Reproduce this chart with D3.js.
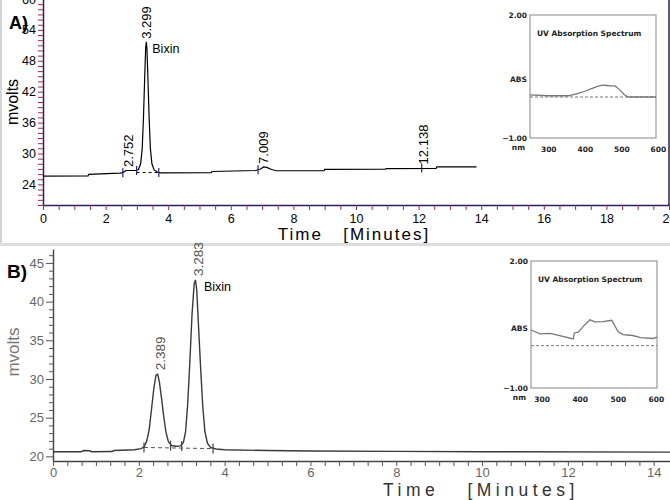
<!DOCTYPE html>
<html>
<head>
<meta charset="utf-8">
<script src="https://cdn.jsdelivr.net/npm/d3@7"></script>
<style>
  body { margin: 0; background: #fff; }
  svg { display: block; }
  text { font-family: "Liberation Sans", Arial, sans-serif; }
</style>
</head>
<body>
<div id="chart"></div>
<script>
// ---- data ----
// panel A chromatogram
var timeA = [0, 1.44, 1.46, 2.45, 2.55, 2.65, 2.95, 3.05, 3.12, 3.17, 3.21, 3.25, 3.28, 3.3, 3.32, 3.35, 3.39, 3.43, 3.48, 3.55,
             3.65, 3.75, 5.38, 5.4, 6.8, 6.95, 7.05, 7.15, 7.3, 7.46, 8.98, 9.0, 10.94, 10.96, 12.56, 12.58, 13.85];
var mvA = [25.6, 25.65, 25.95, 26.2, 26.3, 26.7, 26.7, 26.9, 28, 31, 37, 45, 50.5, 51.7, 50.5, 45, 37, 31, 28, 26.8,
           26.4, 26.25, 26.3, 26.5, 26.7, 27.0, 27.4, 27.3, 26.9, 26.65, 26.65, 26.9, 26.95, 27.05, 27.1, 27.4, 27.4];
var peakLabelsA = ["2.752", "3.299", "7.009", "12.138"];
var peakTimesA = [2.72, 3.3, 7.03, 12.14];
var peakTopsA = [26.8, 51.7, 27.4, 27.3];
var markTimesA = [2.55, 2.99, 3.7, 6.87, 12.1];
var markValsA = [26.25, 26.7, 26.3, 26.85, 27.2];
var yTicksA = [24, 30, 36, 42, 48, 54, 60];
var xTicksA = [0, 2, 4, 6, 8, 10, 12, 14, 16, 18, 20];

// panel A inset spectrum
var nmA = [250, 300, 355, 380, 400, 420, 435, 448, 460, 470, 483, 495, 508, 518, 550, 595];
var absA = [0.05, 0.03, 0.03, 0.08, 0.14, 0.21, 0.26, 0.29, 0.28, 0.27, 0.27, 0.18, 0.06, 0.0, 0.0, 0.0];

// panel B chromatogram
var timeB = [0, 0.65, 0.72, 0.85, 0.9, 1.38, 1.42, 1.9, 2.05, 2.12, 2.18, 2.24, 2.29, 2.35, 2.4, 2.44, 2.48, 2.53, 2.57, 2.63,
             2.69, 2.76, 2.87, 2.97, 3.04, 3.09, 3.14, 3.19, 3.24, 3.29, 3.32, 3.35, 3.39, 3.44, 3.49, 3.54, 3.6, 3.67, 3.8, 4.0,
             5, 6, 8, 10, 14.38];
var mvB = [20.6, 20.6, 20.75, 20.72, 20.6, 20.62, 20.75, 20.85, 21.0, 21.2, 21.9, 23.4, 25.8, 28.8, 30.5, 30.6, 29.6, 27.5, 25.6, 23.2,
           21.9, 21.4, 21.3, 21.35, 21.8, 23.2, 26.8, 32.3, 38.3, 42.3, 42.8, 41.5, 37, 31.5, 26.5, 23.2, 21.7, 21.15, 20.95, 20.85,
           20.75, 20.7, 20.65, 20.6, 20.55];
var peakLabelsB = ["2.389", "3.283"];
var peakTimesB = [2.45, 3.33];
var peakTopsB = [30.6, 42.8];
var markTimesB = [2.12, 2.74, 3.0, 3.73];
var markValsB = [21.15, 21.4, 21.35, 21.0];
var yTicksB = [20, 25, 30, 35, 40, 45];
var xTicksB = [0, 2, 4, 6, 8, 10, 12, 14];

// panel B inset spectrum
var nmB = [272, 296, 322, 350, 383, 386, 396, 412, 427, 440, 461, 484, 501, 514, 539, 560, 594, 603];
var absB = [0.37, 0.28, 0.29, 0.23, 0.16, 0.3, 0.32, 0.48, 0.61, 0.56, 0.57, 0.6, 0.33, 0.26, 0.24, 0.19, 0.17, 0.2];

var nmTicks = [300, 400, 500, 600];

var width = 670, height = 500;

var svg = d3.select("#chart").append("svg")
  .attr("width", width)
  .attr("height", height);

svg.append("rect").attr("width", width).attr("height", height).attr("fill", "#fff");

// ================= panel A =================
var xA = d3.scaleLinear().domain([0, 20]).range([43, 669]);
var yA = d3.scaleLinear().domain([20, 60]).range([205, -1]);

// light grey frame around panel A
svg.append("line").attr("x1", 1).attr("x2", 1).attr("y1", 0).attr("y2", 244)
  .attr("stroke", "#d4d4d4").attr("stroke-width", 2);
svg.append("line").attr("x1", 0).attr("x2", width).attr("y1", 244.5).attr("y2", 244.5)
  .attr("stroke", "#dcdcdc").attr("stroke-width", 3);
svg.append("line").attr("x1", 669).attr("x2", 669).attr("y1", 0).attr("y2", 205)
  .attr("stroke", "#2a1f5c").attr("stroke-width", 1.5);

var gA = svg.append("g");

var axisYA = gA.append("g")
  .attr("transform", "translate(" + xA(0) + ",0)")
  .call(d3.axisLeft(yA)
    .tickValues(d3.range(20, 61, 1))
    .tickSize(5)
    .tickSizeOuter(0)
    .tickPadding(2)
    .tickFormat(function(d) { return yTicksA.indexOf(d) >= 0 ? d : ""; }));

var axisXA = gA.append("g")
  .attr("transform", "translate(0," + yA(20) + ")")
  .call(d3.axisBottom(xA)
    .tickValues(d3.range(0, 20.01, 0.5))
    .tickSize(5)
    .tickSizeOuter(0)
    .tickPadding(4)
    .tickFormat(function(d) { return xTicksA.indexOf(d) >= 0 ? d : ""; }));

[axisYA, axisXA].forEach(function(ax) {
  ax.select(".domain").attr("stroke", "#2a1f5c").attr("stroke-width", 1.5);
  ax.selectAll(".tick line").attr("stroke", "#a3285a");
  ax.selectAll(".tick text").attr("fill", "#000").style("font-size", "12.5px");
});

// dashed baseline under Bixin peak
gA.append("line")
  .attr("x1", xA(2.99)).attr("x2", xA(3.7))
  .attr("y1", yA(26.3)).attr("y2", yA(26.3))
  .attr("stroke", "#000").attr("stroke-dasharray", "3,3");

var lineA = d3.line()
  .x(function(d, i) { return xA(timeA[i]); })
  .y(function(d) { return yA(d); });

gA.append("path")
  .datum(mvA)
  .attr("fill", "none")
  .attr("stroke", "#000")
  .attr("stroke-width", 1.2)
  .attr("d", lineA);

// peak start/end markers
gA.selectAll(".markA")
  .data(markTimesA)
  .enter().append("line")
  .attr("x1", function(d) { return xA(d); })
  .attr("x2", function(d) { return xA(d); })
  .attr("y1", function(d, i) { return yA(markValsA[i]) - 4.5; })
  .attr("y2", function(d, i) { return yA(markValsA[i]) + 4.5; })
  .attr("stroke", "#23238c")
  .attr("stroke-width", 1.2);

// retention time labels
gA.selectAll(".rtA")
  .data(peakLabelsA)
  .enter().append("text")
  .attr("transform", function(d, i) {
    return "translate(" + xA(peakTimesA[i]) + "," + (yA(peakTopsA[i]) - 3) + ")rotate(-90)";
  })
  .attr("dy", "0.35em")
  .style("font-size", "13px")
  .attr("fill", "#000")
  .text(function(d) { return d; });

gA.append("text")
  .attr("x", xA(3.3) + 6).attr("y", 53)
  .style("font-size", "12.5px")
  .text("Bixin");

gA.append("text")
  .attr("transform", "translate(18,102)rotate(-90)")
  .attr("text-anchor", "middle")
  .style("font-size", "16px")
  .text("mvolts");

gA.append("text")
  .attr("x", 354).attr("y", 240)
  .attr("text-anchor", "middle")
  .style("font-size", "17px")
  .style("letter-spacing", "2px")
  .style("white-space", "pre")
  .text("Time   [Minutes]");

gA.append("text")
  .attr("x", 9).attr("y", 29)
  .style("font-size", "18px")
  .style("font-weight", "bold")
  .text("A)");

// ================= panel B =================
var xB = d3.scaleLinear().domain([0, 14.38]).range([53, 670]);
var yB = d3.scaleLinear().domain([19.4, 46.8]).range([461, 249]);

var gB = svg.append("g");

var axisYB = gB.append("g")
  .attr("transform", "translate(" + xB(0) + ",0)")
  .call(d3.axisLeft(yB)
    .tickValues(d3.range(20, 47, 1))
    .tickSize(4)
    .tickSizeOuter(0)
    .tickPadding(5)
    .tickFormat(function(d) { return yTicksB.indexOf(d) >= 0 ? d : ""; }));
axisYB.selectAll(".tick line")
  .attr("x2", function(d) { return yTicksB.indexOf(d) >= 0 ? -7 : -4; });

var axisXB = gB.append("g")
  .attr("transform", "translate(0," + yB(19.4) + ")")
  .call(d3.axisBottom(xB)
    .tickValues(d3.range(0, 43, 1).map(function(d) { return d / 3; }))
    .tickSize(5)
    .tickSizeOuter(0)
    .tickPadding(2)
    .tickFormat(function(d) {
      var r = Math.round(d);
      return (Math.abs(d - r) < 1e-6 && xTicksB.indexOf(r) >= 0) ? r : "";
    }));

[axisYB, axisXB].forEach(function(ax) {
  ax.select(".domain").attr("stroke", "#444").attr("stroke-width", 1.4);
  ax.selectAll(".tick line").attr("stroke", "#555");
  ax.selectAll(".tick text").attr("fill", "#666").style("font-size", "13px");
});

gB.append("line")
  .attr("x1", xB(2.12)).attr("x2", xB(3.73))
  .attr("y1", yB(21.15)).attr("y2", yB(21.0))
  .attr("stroke", "#555").attr("stroke-dasharray", "4,3");

var lineB = d3.line()
  .x(function(d, i) { return xB(timeB[i]); })
  .y(function(d) { return yB(d); });

gB.append("path")
  .datum(mvB)
  .attr("fill", "none")
  .attr("stroke", "#3a3a3a")
  .attr("stroke-width", 1.4)
  .attr("d", lineB);

gB.selectAll(".markB")
  .data(markTimesB)
  .enter().append("line")
  .attr("x1", function(d) { return xB(d); })
  .attr("x2", function(d) { return xB(d); })
  .attr("y1", function(d, i) { return yB(markValsB[i]) - 5; })
  .attr("y2", function(d, i) { return yB(markValsB[i]) + 5; })
  .attr("stroke", "#444")
  .attr("stroke-width", 1.2);

gB.selectAll(".rtB")
  .data(peakLabelsB)
  .enter().append("text")
  .attr("transform", function(d, i) {
    return "translate(" + (xB(peakTimesB[i]) + 2) + "," + (yB(peakTopsB[i]) - 4) + ")rotate(-90)";
  })
  .attr("dy", "0.35em")
  .style("font-size", "13.5px")
  .attr("fill", "#555")
  .text(function(d) { return d; });

gB.append("text")
  .attr("x", xB(3.33) + 8).attr("y", 291)
  .style("font-size", "12.5px")
  .text("Bixin");

gB.append("text")
  .attr("transform", "translate(19,352)rotate(-90)")
  .attr("text-anchor", "middle")
  .attr("fill", "#777")
  .style("font-size", "17px")
  .text("mvolts");

gB.append("text")
  .attr("x", 481).attr("y", 496)
  .attr("text-anchor", "middle")
  .attr("fill", "#333")
  .style("font-size", "17.5px")
  .style("letter-spacing", "4.5px")
  .style("white-space", "pre")
  .text("Time   [Minutes]");

gB.append("text")
  .attr("x", 7).attr("y", 278)
  .style("font-size", "19px")
  .style("font-weight", "bold")
  .text("B)");

// ================= insets =================
function drawInset(box, nmDomain, nm, abs) {
  var xs = d3.scaleLinear().domain(nmDomain).range([box.x, box.x + box.w]);
  var ys = d3.scaleLinear().domain([-1, 2]).range([box.y + box.h, box.y]);
  var g = svg.append("g");

  g.append("rect")
    .attr("x", box.x).attr("y", box.y)
    .attr("width", box.w).attr("height", box.h)
    .attr("fill", "#fff")
    .attr("stroke", "#9a9a9a")
    .attr("stroke-width", 1.2);

  g.append("line")
    .attr("x1", box.x).attr("x2", box.x + box.w)
    .attr("y1", ys(0)).attr("y2", ys(0))
    .attr("stroke", "#777").attr("stroke-dasharray", "3,2");

  g.append("path")
    .datum(abs)
    .attr("fill", "none")
    .attr("stroke", "#777")
    .attr("stroke-width", 1.3)
    .attr("d", d3.line()
      .x(function(d, i) { return xs(nm[i]); })
      .y(function(d) { return ys(d); }));

  var ax = g.append("g")
    .attr("transform", "translate(0," + (box.y + box.h) + ")")
    .call(d3.axisBottom(xs).tickValues(nmTicks).tickSize(0).tickPadding(9).tickFormat(d3.format("d")));
  ax.select(".domain").remove();
  ax.selectAll("text")
    .attr("fill", "#222")
    .style("font-family", "'DejaVu Sans', sans-serif")
    .style("font-weight", "bold")
    .style("font-size", "7.5px");

  var yl = g.append("g")
    .attr("transform", "translate(" + box.x + ",0)")
    .call(d3.axisLeft(ys).tickValues([2, -1]).tickSize(0).tickPadding(3).tickFormat(d3.format(".2f")));
  yl.select(".domain").remove();
  yl.selectAll("text")
    .attr("fill", "#222")
    .style("font-family", "'DejaVu Sans', sans-serif")
    .style("font-weight", "bold")
    .style("font-size", "7.5px");

  var small = function(sel) {
    return sel.attr("fill", "#222")
      .style("font-family", "'DejaVu Sans', sans-serif")
      .style("font-weight", "bold")
      .style("font-size", "7.5px");
  };
  small(g.append("text")
    .attr("x", box.x - 3).attr("y", ys(0.42))
    .attr("dy", "0.35em")
    .attr("text-anchor", "end")
    .text("ABS"));
  small(g.append("text")
    .attr("x", box.x - 5).attr("y", box.y + box.h + 12)
    .attr("text-anchor", "end")
    .text("nm"));
  small(g.append("text")
    .attr("x", box.x + 7).attr("y", box.y + 21)
    .style("font-size", "6.8px")
    .text("UV Absorption Spectrum"));
}

drawInset({x: 530, y: 15, w: 126, h: 123}, [250, 595], nmA, absA);
drawInset({x: 531, y: 261, w: 126, h: 127}, [272, 603], nmB, absB);
</script>
</body>
</html>
